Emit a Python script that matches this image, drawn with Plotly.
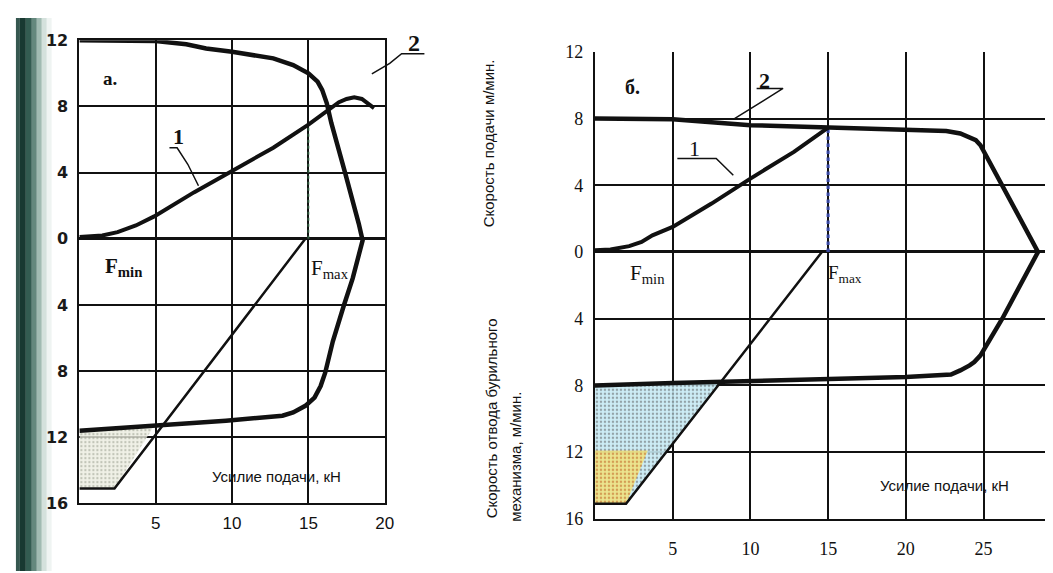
import plotly.graph_objects as go

W, H = 1053, 573

# ---------------- data: chart "а." (left) ----------------
a_c1_x = [0, 1.5, 2.5, 3.7, 4.9, 7.5, 10, 12.7, 15, 16.3, 17, 17.5, 18.0, 18.5, 18.9, 19.3]
a_c1_y = [0.1, 0.2, 0.4, 0.8, 1.35, 2.8, 4.1, 5.5, 6.9, 7.8, 8.25, 8.45, 8.55, 8.45, 8.2, 7.9]
a_c2_x = [0, 5, 7, 8.3, 10, 12.7, 14, 15, 15.6, 15.9, 16.2, 16.5, 17.4, 18.0, 18.3, 18.55,
          18.2, 17.9, 17.3, 16.6, 16.1, 15.8, 15.4, 14.8, 14.0, 13.3, 9.6, 4.9, 0]
a_c2_y = [12, 11.95, 11.75, 11.5, 11.3, 10.9, 10.5, 10.0, 9.5, 9.0, 8.2, 7.0, 4.0, 2.0, 0.9, -0.1,
          -1.3, -2.4, -4.1, -6.2, -8.1, -8.9, -9.6, -10.1, -10.5, -10.7, -11.0, -11.3, -11.6]
a_ret_x = [0, 2.3, 14.8]
a_ret_y = [-15.1, -15.1, 0]
a_shade_x = [0, 4.9, 2.3, 0, 0]
a_shade_y = [-11.6, -11.3, -15.1, -15.1, -11.6]
a_fmax_x = [15, 15]
a_fmax_y = [0, 7.0]

# ---------------- data: chart "б." (right) ----------------
b_c1_x = [0, 1, 2.2, 3, 3.7, 5, 7.5, 10, 12.8, 14.7, 15]
b_c1_y = [0.1, 0.15, 0.35, 0.6, 1.0, 1.5, 2.9, 4.4, 6.0, 7.3, 7.45]
b_c2_x = [0, 5, 10, 15, 18.3, 20, 22, 22.6, 23.5, 24.1, 24.5, 24.8, 26.2, 28.5,
          26.2, 24.8, 24.4, 24.1, 23.5, 22.9, 20, 15, 10, 5, 0]
b_c2_y = [8.0, 7.95, 7.6, 7.45, 7.4, 7.35, 7.3, 7.25, 7.1, 6.9, 6.7, 6.4, 4.0, 0,
          -4.0, -6.2, -6.6, -6.8, -7.1, -7.35, -7.5, -7.6, -7.7, -7.85, -8.0]
b_ret_x = [0, 2.0, 14.6]
b_ret_y = [-15.1, -15.1, 0]
b_shade_x = [0, 8.0, 2.0, 0, 0]
b_shade_y = [-8.0, -7.8, -15.1, -15.1, -8.0]
b_warm_x = [0, 3.4, 2.0, 0, 0]
b_warm_y = [-11.9, -11.9, -15.1, -15.1, -11.9]
b_fmax_x = [15, 15]
b_fmax_y = [0, 7.4]

# tick values / labels
y_ticks = [-16, -12, -8, -4, 0, 4, 8, 12]
y_text = [str(abs(v)) for v in y_ticks]
a_x_ticks = [5, 10, 15, 20]
b_x_ticks = [5, 10, 15, 20, 25]

fig = go.Figure()

BLK = "#111111"

def add(x, y, xa, ya, width=4.5, color=BLK, dash=None, fill=None, fillcolor=None, pattern=None):
    fig.add_trace(go.Scatter(
        x=x, y=y, xaxis=xa, yaxis=ya, mode="lines",
        line=dict(color=color, width=width, dash=dash),
        fill=fill, fillcolor=fillcolor, fillpattern=pattern,
        hoverinfo="skip", showlegend=False))

# left chart
add(a_shade_x, a_shade_y, "x", "y", width=0, fill="toself", fillcolor="rgba(226,228,214,0.8)",
    pattern=dict(shape=".", fgcolor="#8a8f80", bgcolor="rgba(236,238,225,0.8)", size=4, solidity=0.25))
add(a_fmax_x, a_fmax_y, "x", "y", width=2, color="rgba(60,120,80,0.7)", dash="dot")
add(a_ret_x, a_ret_y, "x", "y", width=2.5)
add(a_c1_x, a_c1_y, "x", "y", width=4)
add(a_c2_x, a_c2_y, "x", "y", width=4.5)

# right chart
add(b_shade_x, b_shade_y, "x2", "y2", width=0, fill="toself", fillcolor="rgba(190,232,245,0.8)",
    pattern=dict(shape=".", fgcolor="#555555", bgcolor="rgba(200,236,246,0.9)", size=4, solidity=0.3))
add(b_warm_x, b_warm_y, "x2", "y2", width=0, fill="toself", fillcolor="rgba(250,220,90,0.6)",
    pattern=dict(shape=".", fgcolor="#cc6a30", bgcolor="rgba(250,225,100,0.7)", size=4, solidity=0.3))
add(b_fmax_x, b_fmax_y, "x2", "y2", width=3.5, color="rgba(70,90,200,0.75)", dash="dot")
add(b_ret_x, b_ret_y, "x2", "y2", width=2.5)
add(b_c1_x, b_c1_y, "x2", "y2", width=4)
add(b_c2_x, b_c2_y, "x2", "y2", width=4.5)

def px_x(p):
    return p / W

def px_y(p):
    return 1 - p / H

grid = dict(showgrid=True, gridcolor=BLK, gridwidth=1.5, zeroline=True, zerolinecolor=BLK,
            zerolinewidth=2.5, showline=True, linecolor=BLK, linewidth=2, ticks="")

fig.update_layout(
    width=W, height=H, margin=dict(l=0, r=0, t=0, b=0),
    paper_bgcolor="white", plot_bgcolor="white", showlegend=False,
    xaxis=dict(domain=[px_x(72), px_x(380)], range=[0, 20], tickvals=a_x_ticks,
               anchor="y", mirror=True, ticklabelstandoff=3,
               tickfont=dict(family="Liberation Sans, Arial", size=17, color=BLK), **grid),
    yaxis=dict(domain=[px_y(503), px_y(23)], range=[-16, 12], tickvals=y_ticks, ticktext=y_text,
               anchor="x", mirror=True, ticklabelstandoff=6,
               tickfont=dict(family="DejaVu Sans, Liberation Sans", size=16, color="#1a1a1a",
                             weight="bold"), **grid),
    xaxis2=dict(domain=[px_x(592), 1.0], range=[0, 29.4], tickvals=b_x_ticks,
                anchor="y2", mirror=False, ticklabelstandoff=13,
                tickfont=dict(family="Liberation Serif, Times New Roman", size=18, color=BLK), **grid),
    yaxis2=dict(domain=[px_y(519), px_y(35)], range=[-16, 12], tickvals=y_ticks, ticktext=y_text,
                anchor="x2", mirror=False, ticklabelstandoff=6,
                tickfont=dict(family="Liberation Serif, Times New Roman", size=18, color=BLK), **grid),
)

# scanner edge shading on far left
band = [(8, 12, "#123a30", 0.85), (12, 18, "#0c2e26", 0.95), (18, 24, "#1d4a3e", 0.9),
        (24, 29, "#3d6a5c", 0.8), (29, 34, "#6f9688", 0.65), (34, 39, "#a9c4ba", 0.5),
        (39, 44, "#d6e4de", 0.4)]
for x0, x1, col, op in band:
    fig.add_shape(type="rect", xref="paper", yref="paper", x0=px_x(x0), x1=px_x(x1), y0=0, y1=1,
                  fillcolor=col, opacity=op, line_width=0, layer="below")

serif = "Liberation Serif, Times New Roman"
sans = "Liberation Sans, Arial"

def ann(text, x, y, xr, yr, size, family=serif, bold=False, angle=0, color=BLK):
    fig.add_annotation(text=f"<b>{text}</b>" if bold else text, x=x, y=y, xref=xr, yref=yr,
                       showarrow=False, textangle=angle, xanchor="center", yanchor="middle",
                       font=dict(family=family, size=size, color=color))

# left chart annotations
ann("а.", 2.0, 9.7, "x", "y", 19, bold=True)
ann("1", 6.5, 6.2, "x", "y", 22, bold=True)
ann("2", px_x(409), px_y(26), "paper", "paper", 24, bold=True)
ann("F<sub>min</sub>", 2.9, -1.7, "x", "y", 21, bold=True)
ann("F<sub>max</sub>", 16.4, -1.8, "x", "y", 21)
ann("Усилие подачи, кН", 12.9, -14.4, "x", "y", 15, family=sans)

# right chart annotations
ann("б.", 2.4, 9.9, "x2", "y2", 20, bold=True)
ann("1", 6.4, 6.2, "x2", "y2", 22)
ann("2", 10.9, 10.3, "x2", "y2", 22, bold=True)
ann("F<sub>min</sub>", 3.4, -1.3, "x2", "y2", 21)
ann("F<sub>max</sub>", 16.1, -1.3, "x2", "y2", 19)
ann("Усилие подачи, кН", 22.5, -14.0, "x2", "y2", 15, family=sans)

ann("Скорость подачи м/мин.", px_x(485), px_y(130), "paper", "paper", 15, family=sans, angle=-90)
ann("Скорость отвода бурильного", px_x(488), px_y(415), "paper", "paper", 15, family=sans, angle=-90)
ann("механизма, м/мин.", px_x(511), px_y(455), "paper", "paper", 15, family=sans, angle=-90)

# leader lines for labels 1 and 2
leaders = [
    ("x", "y", [5.9, 6.4, 7.1, 7.8], [5.5, 5.5, 4.5, 3.2]),
    ("x2", "y2", [5.3, 7.8, 8.9], [5.6, 5.6, 4.6]),
    ("x2", "y2", [10.4, 12.1, 8.9], [9.8, 9.8, 7.95]),
]
for xa, ya, lx, ly in leaders:
    fig.add_trace(go.Scatter(x=lx, y=ly, xaxis=xa, yaxis=ya, mode="lines",
                             line=dict(color=BLK, width=1.5), hoverinfo="skip", showlegend=False))

# leader for "2" on the left chart reaches outside the plot area, so it is a paper-space path
fig.add_shape(type="path", xref="paper", yref="paper",
              path=(f"M {px_x(420)} {px_y(37)} L {px_x(397)} {px_y(37)} "
                    f"L {px_x(385)} {px_y(47)} L {px_x(367)} {px_y(58)}"),
              line=dict(color=BLK, width=1.5))

fig.write_html("out.html")
